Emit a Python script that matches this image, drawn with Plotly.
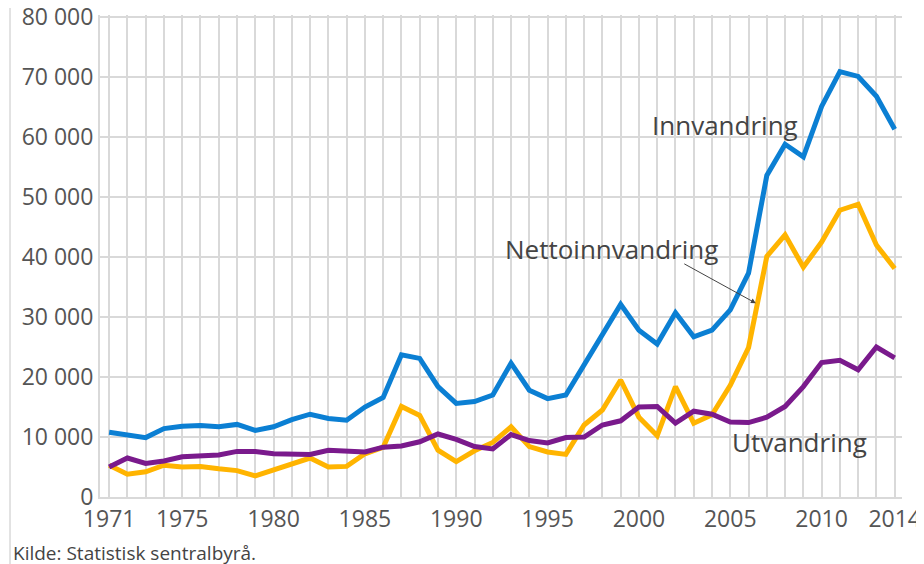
import plotly.graph_objects as go

years = list(range(1971, 2015))

innvandring = [10800, 10400, 9900, 11400, 11800, 11900, 11700, 12100, 11100, 11700,
               12900, 13800, 13100, 12800, 15000, 16600, 23700, 23100, 18400, 15600,
               15900, 17000, 22300, 17800, 16400, 17000, 22000, 26700, 32100, 27800,
               25500, 30700, 26700, 27800, 31200, 37300, 53600, 58800, 56700, 65100,
               70900, 70100, 66800, 61300]

nettoinnvandring = [5300, 3800, 4200, 5300, 5000, 5100, 4700, 4400, 3500, 4500,
                    5700, 6500, 5000, 5100, 7200, 8300, 15100, 13600, 7800, 5900,
                    7700, 9100, 11700, 8400, 7500, 7100, 12000, 14500, 19500, 13300,
                    10200, 18400, 12300, 13700, 18600, 24900, 40100, 43700, 38300, 42500,
                    47800, 48800, 42000, 38100]

utvandring = [5000, 6500, 5600, 6000, 6700, 6800, 7000, 7600, 7600, 7200,
              7100, 7100, 7800, 7600, 7500, 8300, 8500, 9200, 10500, 9600,
              8400, 8000, 10400, 9400, 9000, 9900, 10000, 12000, 12700, 15000,
              15100, 12300, 14300, 13800, 12500, 12400, 13300, 15100, 18400, 22400,
              22800, 21200, 25000, 23200]

label_years = [1971, 1975, 1980, 1985, 1990, 1995, 2000, 2005, 2010, 2014]
tick_text = [str(y) if y in label_years else "" for y in years]

fig = go.Figure()
fig.add_trace(go.Scatter(x=years, y=innvandring, mode="lines", name="Innvandring",
                         line=dict(color="#0B7FD3", width=5)))
fig.add_trace(go.Scatter(x=years, y=nettoinnvandring, mode="lines", name="Nettoinnvandring",
                         line=dict(color="#FFB400", width=5)))
fig.add_trace(go.Scatter(x=years, y=utvandring, mode="lines", name="Utvandring",
                         line=dict(color="#7A1A8C", width=5)))

# page has an 8px body margin, so the figure is 916x556 drawn from (8, 8)
fig.update_layout(
    width=916, height=556,
    margin=dict(l=92, r=22, t=7, b=67, autoexpand=False),
    paper_bgcolor="white", plot_bgcolor="white",
    showlegend=False,
    font=dict(family="Open Sans", color="#444444"),
)
fig.update_xaxes(range=[1970.5, 2014.4], tickmode="array", tickvals=years, ticktext=tick_text,
                 showgrid=True, gridcolor="#D9D9D9", gridwidth=2,
                 tickfont=dict(size=23, color="#555555"), ticks="", zeroline=False,
                 showline=True, linecolor="#D9D9D9", linewidth=2)
fig.update_yaxes(range=[0, 80340], tickvals=list(range(0, 80001, 10000)),
                 ticktext=["0"] + [f"{v // 1000} 000" for v in range(10000, 80001, 10000)],
                 showgrid=True, gridcolor="#D9D9D9", gridwidth=2,
                 tickfont=dict(size=23, color="#555555"), ticks="", zeroline=False,
                 showline=True, linecolor="#D9D9D9", linewidth=2,
                 ticklabeloverflow="allow")

fig.add_annotation(x=2004.7, y=62000, text="Innvandring", showarrow=False,
                   xanchor="center", font=dict(size=26, color="#444444"))
fig.add_annotation(x=1998.5, y=41300, text="Nettoinnvandring", showarrow=False,
                   xanchor="center", font=dict(size=26, color="#444444"))
fig.add_annotation(x=2006.4, y=32300, ax=2002.4, ay=39000, axref="x", ayref="y",
                   text="", showarrow=True, arrowhead=2, arrowsize=1, arrowwidth=1,
                   arrowcolor="#444444")
fig.add_annotation(x=2008.8, y=9170, text="Utvandring", showarrow=False,
                   xanchor="center", font=dict(size=26, color="#444444"))
fig.add_annotation(x=0, y=0, xref="paper", yref="paper", xshift=-89, yshift=-56,
                   text="Kilde: Statistisk sentralbyrå.", showarrow=False,
                   xanchor="left", yanchor="middle", font=dict(size=19, color="#444444"))

fig.add_shape(type="line", xref="paper", yref="paper", x0=-0.1122, x1=-0.1122, y0=-0.2, y1=1.05,
              line=dict(color="#D9D9D9", width=1.5))

fig.write_html("out.html")
